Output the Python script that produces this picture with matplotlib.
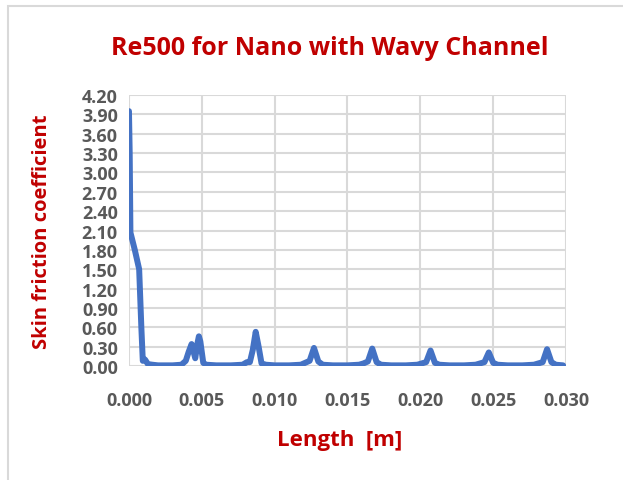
import numpy as np
import matplotlib
matplotlib.use("Agg")
import matplotlib.pyplot as plt
import matplotlib.patches as mpatches

# data
length = [0.0000, 0.00005, 0.0001, 0.0004, 0.0007, 0.00085, 0.00095, 0.0011, 0.0013,
          0.0016, 0.0020, 0.0030, 0.0036, 0.0039, 0.0041, 0.0043, 0.00455, 0.0047,
          0.0048, 0.0049, 0.0051, 0.0053, 0.0060, 0.0070, 0.0078, 0.0081, 0.0083,
          0.0085, 0.0087, 0.0089, 0.0091, 0.0094, 0.0100, 0.0110, 0.0118, 0.0121,
          0.0124, 0.0127, 0.0130, 0.0133, 0.0140, 0.0150, 0.0158, 0.0161, 0.0164,
          0.0167, 0.0170, 0.0173, 0.0180, 0.0190, 0.0198, 0.0201, 0.0204, 0.0207,
          0.0210, 0.0213, 0.0220, 0.0230, 0.0238, 0.0241, 0.0244, 0.0247, 0.0250,
          0.0253, 0.0260, 0.0270, 0.0278, 0.0281, 0.0284, 0.0287, 0.0290, 0.0293,
          0.0298]
cf = [3.95, 3.30, 2.07, 1.80, 1.50, 0.60, 0.08, 0.10, 0.03,
      0.02, 0.01, 0.01, 0.02, 0.08, 0.22, 0.34, 0.12, 0.35,
      0.46, 0.38, 0.05, 0.02, 0.01, 0.01, 0.02, 0.06, 0.06,
      0.25, 0.53, 0.30, 0.04, 0.02, 0.01, 0.01, 0.02, 0.05,
      0.08, 0.28, 0.07, 0.02, 0.01, 0.01, 0.02, 0.04, 0.07,
      0.27, 0.06, 0.02, 0.01, 0.01, 0.02, 0.04, 0.06, 0.24,
      0.05, 0.02, 0.01, 0.01, 0.02, 0.04, 0.06, 0.21, 0.05,
      0.02, 0.01, 0.01, 0.02, 0.04, 0.06, 0.26, 0.06, 0.02,
      0.01]

x_ticks = np.arange(0, 0.0301, 0.005)
y_ticks = np.arange(0, 4.21, 0.30)

fig = plt.figure(figsize=(6.23, 4.81), dpi=100)
ax = fig.add_axes([0.207, 0.237, 0.7015, 0.5634])

# outer chart frame (only top and left edges visible)
fig.patches.append(mpatches.Rectangle((8 / 623, -0.1), 1.2, 1 - 7 / 481 + 0.1,
                                      transform=fig.transFigure, fill=False,
                                      edgecolor="#d9d9d9", linewidth=1.5))

ax.plot(length, cf, color="#4472C4", linewidth=4.3, solid_joinstyle="round",
        solid_capstyle="round", zorder=3)

ax.set_xlim(0, 0.030)
ax.set_ylim(0, 4.20)
ax.set_xticks(x_ticks)
ax.set_yticks(y_ticks)
ax.set_xticklabels([f"{v:.3f}" for v in x_ticks])
ax.set_yticklabels([f"{v:.2f}" for v in y_ticks])
ax.grid(True, color="#d9d9d9", linewidth=1.5)
ax.set_axisbelow(True)
for s in ax.spines.values():
    s.set_visible(False)
ax.tick_params(length=0, labelsize=13, labelcolor="#595959")
ax.tick_params(axis="x", pad=18)
ax.tick_params(axis="y", pad=8)
for lbl in ax.get_xticklabels() + ax.get_yticklabels():
    lbl.set_fontweight("bold")
    lbl.set_family("Open Sans")

fig.text(0.53, 0.900, "Re500 for Nano with Wavy Channel", ha="center", va="center",
         fontsize=18, fontweight="bold", color="#C00000", family="Open Sans")
fig.text(0.545, 0.085, "Length  [m]", ha="center", va="center",
         fontsize=16, fontweight="bold", color="#C00000", family="Open Sans")
fig.text(0.068, 0.518, "Skin friction coefficient", ha="center", va="center",
         rotation=90, fontsize=14.5, fontweight="bold", color="#C00000", family="Open Sans")

fig.savefig("out.png", dpi=100)
